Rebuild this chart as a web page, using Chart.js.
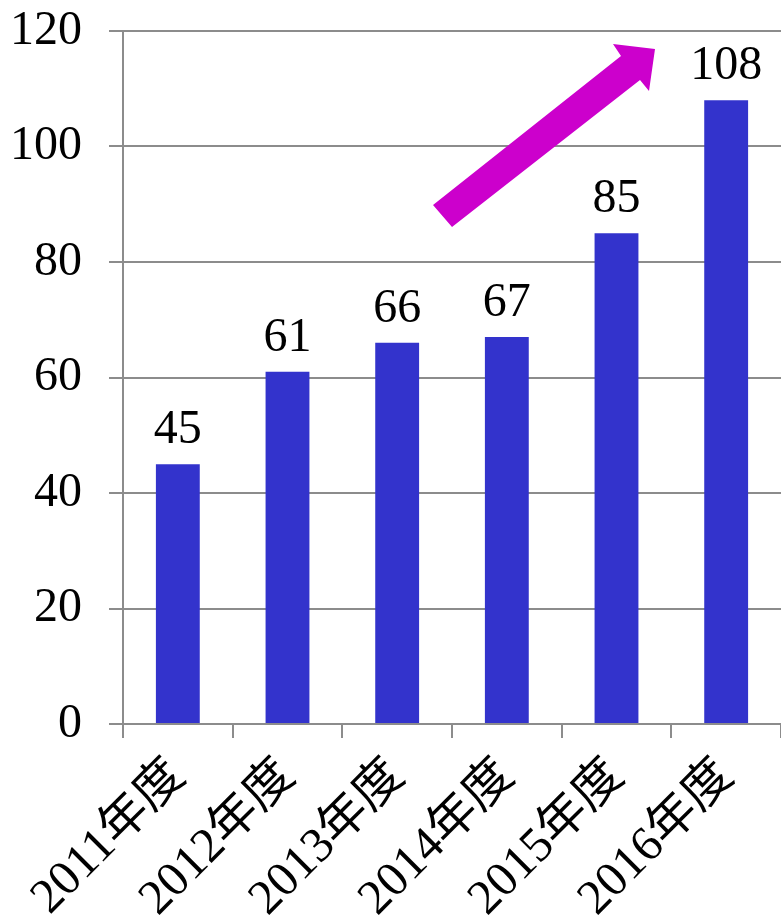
<!DOCTYPE html>
<html>
<head>
<meta charset="utf-8">
<script src="https://cdn.jsdelivr.net/npm/chart.js@4"></script>
<style>
  body { margin: 0; background: #fff; }
  #chart { display: block; }
</style>
</head>
<body>
<canvas id="chart" width="781" height="924"></canvas>
<script>
// data
const years = ['2011年度', '2012年度', '2013年度', '2014年度', '2015年度', '2016年度'];
const counts = [45, 61, 66, 67, 85, 108];
const yTicks = [0, 20, 40, 60, 80, 100, 120];

const FONT = '"Liberation Serif", "Times New Roman", "Noto Sans CJK JP", serif';
const GRID = '#8c8c8c';

// value labels above each bar
const valueLabels = {
    id: 'valueLabels',
    afterDatasetsDraw(chart) {
        const ctx = chart.ctx;
        const meta = chart.getDatasetMeta(0);
        ctx.save();
        ctx.font = '48px ' + FONT;
        ctx.fillStyle = '#000';
        ctx.textAlign = 'center';
        ctx.textBaseline = 'alphabetic';
        meta.data.forEach((bar, i) => {
            ctx.fillText(String(counts[i]), bar.x, bar.y - 21);
        });
        ctx.restore();
    }
};

// the magenta trend arrow
const trendArrow = {
    id: 'trendArrow',
    afterDraw(chart) {
        const ctx = chart.ctx;
        const pts = [[433, 205], [621, 56], [613, 44], [655, 49], [649, 91], [640, 80], [452, 227]];
        ctx.save();
        ctx.beginPath();
        pts.forEach((p, i) => i ? ctx.lineTo(p[0], p[1]) : ctx.moveTo(p[0], p[1]));
        ctx.closePath();
        ctx.fillStyle = '#cc00cc';
        ctx.fill();
        ctx.restore();
    }
};

new Chart(document.getElementById('chart'), {
    type: 'bar',
    data: {
        labels: years,
        datasets: [{
            data: counts,
            backgroundColor: '#3333cc',
            borderWidth: 0,
            barPercentage: 0.4,
            categoryPercentage: 1
        }]
    },
    options: {
        responsive: false,
        animation: false,
        layout: { padding: { top: 31, right: -3, left: 0, bottom: 0 } },
        plugins: {
            legend: { display: false },
            tooltip: { enabled: false }
        },
        scales: {
            x: {
                afterFit(scale) {
                    scale.height = 200;
                    scale.paddingLeft = 0;
                    scale.paddingRight = 0;
                },
                grid: {
                    display: true,
                    offset: true,
                    drawOnChartArea: false,
                    drawTicks: true,
                    tickLength: 14,
                    color: GRID,
                    lineWidth: 2
                },
                border: { display: true, color: GRID, width: 2 },
                ticks: {
                    maxRotation: 45,
                    minRotation: 45,
                    padding: 10,
                    color: '#000',
                    font: { family: FONT, size: 49 }
                }
            },
            y: {
                min: 0,
                max: 120,
                afterFit(scale) {
                    scale.width = 123;
                    scale.paddingTop = 0;
                    scale.paddingBottom = 0;
                },
                afterBuildTicks(scale) { scale.ticks = yTicks.map(v => ({ value: v })); },
                grid: {
                    color: GRID,
                    lineWidth: 2,
                    drawTicks: true,
                    tickLength: 14
                },
                border: { display: true, color: GRID, width: 2 },
                ticks: {
                    padding: 27,
                    color: '#000',
                    font: { family: FONT, size: 48 }
                }
            }
        }
    },
    plugins: [valueLabels, trendArrow]
});
</script>
</body>
</html>
